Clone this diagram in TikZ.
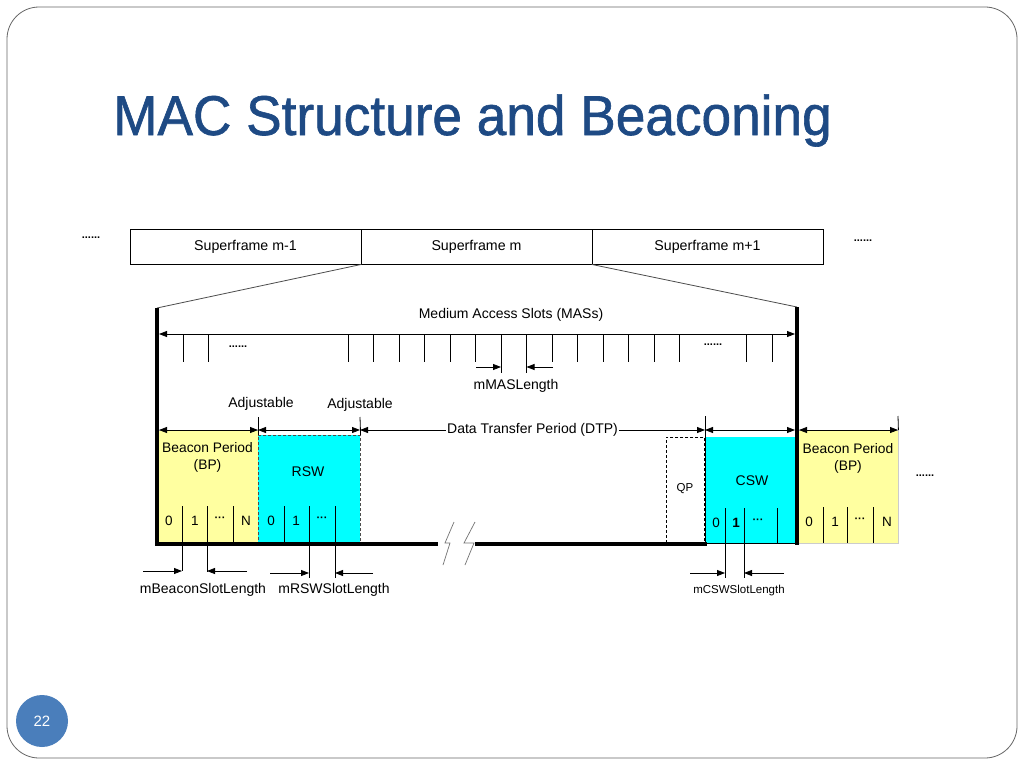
\documentclass[tikz,border=0pt]{standalone}
\usepackage{fontspec}
\setmainfont{Liberation Sans}
\newfontfamily\titlefont[FakeStretch=0.95,FakeBold=1.1]{Liberation Sans}
\usetikzlibrary{arrows.meta}
\definecolor{titleblue}{RGB}{30,74,132}
\definecolor{numblue}{RGB}{74,126,187}
\definecolor{bpyellow}{RGB}{255,255,160}
\definecolor{swcyan}{RGB}{0,255,255}
\begin{document}
\begin{tikzpicture}[x=1pt,y=-1pt,
  lbl/.style={font=\fontsize{14}{17}\selectfont, inner sep=0pt},
  digit/.style={font=\fontsize{13.5}{15}\selectfont, inner sep=0pt},
  smalllbl/.style={font=\fontsize{11.5}{13}\selectfont, inner sep=0pt},
  dotlbl/.style={font=\bfseries\fontsize{11}{12}\selectfont, inner sep=0pt},
  thinln/.style={line width=0.8pt},
  thickln/.style={line width=3.6pt},
  dimarr/.style={line width=0.8pt, {Triangle[length=8pt,width=6pt]}-{Triangle[length=8pt,width=6pt]}},
  rarr/.style={line width=0.8pt, -{Triangle[length=8pt,width=6pt]}},
  sf/.style={draw, line width=0.8pt, minimum width=231pt, minimum height=35pt, inner sep=0pt, font=\fontsize{14.2}{16}\selectfont},
  block/.style={minimum width=#1, inner sep=0pt, anchor=north west},
]
\path[use as bounding box, fill=white] (0,0) rectangle (1024,768);
% slide frame
\draw[black!60, line width=0.8pt, rounded corners=32pt] (7,7) rectangle (1017,758);
\node[circle, fill=numblue, minimum size=52pt, inner sep=0pt, text=white, font=\fontsize{15}{18}\selectfont] (pg) at (42,721) {22};
\node[anchor=base west, inner sep=0pt, text=titleblue, font=\titlefont\fontsize{56}{60}\selectfont] (title) at (113,135) {MAC Structure and Beaconing};

% superframes
\node[sf] (sf1) at (245.5,246.5) {Superframe m-1};
\node[sf] (sf2) at (476.5,246.5) {Superframe m};
\node[sf] (sf3) at (707.5,246.5) {Superframe m+1};
\node[dotlbl] (dl) at (91,238) {......};
\node[dotlbl] (dr) at (863,241) {......};

% blocks
\node[block=101pt, minimum height=114pt, fill=bpyellow, draw=black!20] (bp1) at (157,430) {};
\node[block=102pt, minimum height=109pt, fill=swcyan, draw=black!70, line width=0.6pt, densely dashed] (rsw) at (258,435) {};
\node[block=38pt, minimum height=106pt, fill=white, draw=black, line width=0.7pt, densely dashed] (qp) at (666,437) {};
\node[block=92pt, minimum height=106pt, fill=swcyan] (csw) at (705,437) {};
\draw[thinln] (csw.north west) -- (csw.south west) -- (csw.south east);
\node[block=101pt, minimum height=113pt, fill=bpyellow, draw=black!20] (bp2) at (797,430) {};

% frame of superframe m
\coordinate (Ltop) at (157,308);
\coordinate (Rtop) at (797,307);
\coordinate (Lbot) at (157,545);
\coordinate (Rbot) at (797,545);
\draw[black!70, thinln] (sf1.south east) -- (Ltop);
\draw[black!70, thinln] (sf3.south west) -- (Rtop);
\draw[thickln] (Ltop) -- (Lbot);
\draw[thickln] (Rtop) -- (Rbot);
\coordinate (B1) at (155.2,544);
\coordinate (B2) at (438,544);
\coordinate (B3) at (475,544);
\coordinate (B4) at (707,544);
\draw[thickln] (B1) -- (B2);
\draw[thickln] (B3) -- (B4);
% break marks
\draw[black!55, line width=0.7pt] (454,522) -- (445,543) -- (450,543) -- (443,565);
\draw[black!55, line width=0.7pt] (475,522) -- (464,543) -- (474,543) -- (465,565);

% MAS row
\node[lbl] (maslbl) at (511,315) {Medium Access Slots (MASs)};
\coordinate (masL) at (159,334);
\coordinate (masR) at (795,334);
\draw[dimarr] (masL) -- (masR);
\foreach \x in {183,208,348,373.5,399,424.5,450,475.5,552,577.5,603,628.5,654,679.5,746,772}
  \draw[thinln] (\x,334) -- (\x,362);
\draw[thinln] (501,334) -- (501,373);
\draw[thinln] (526.5,334) -- (526.5,373);
\node[dotlbl] (d1) at (238,347) {......};
\node[dotlbl] (d2) at (713,345) {......};
\draw[rarr] (476,367) -- (501,367);
\draw[rarr] (553,367) -- (526.5,367);
\node[lbl] (maslen) at (516,386) {mMASLength};

% Adjustable and period row
\node[lbl] (adj1) at (261,404) {Adjustable};
\node[lbl] (adj2) at (360,405) {Adjustable};
\draw[thinln] (258,417) -- (rsw.north west);
\draw[thinln] (360,417) -- (rsw.north east);
\draw[thinln] (705,416) -- (csw.north west);
\draw[thinln] (898,416) -- (bp2.north east);
\draw[dimarr] (159,430) -- (258,430);
\draw[dimarr] (258,430) -- (360,430);
\draw[dimarr] (360,430) -- node[fill=white, inner sep=1pt, font=\fontsize{14}{17}\selectfont] (dtp) {Data Transfer Period (DTP)} (705,430);
\draw[dimarr] (705,430) -- (795,430);
\draw[dimarr] (799,430) -- (898,430);

% left BP contents
\node[lbl, align=center, font=\fontsize{13.8}{17}\selectfont] (bp1t) at (207.5,457) {Beacon Period\\(BP)};
\draw[thinln] (182,506) -- (182,571);
\draw[thinln] (207,506) -- (207,572);
\draw[thinln] (233,506) -- (233,544);
\node[digit] at (169,521) {0};
\node[digit] at (195,521) {1};
\node[dotlbl] at (220,519) {···};
\node[digit] at (246,521) {N};
\draw[rarr] (143,571) -- (182,571);
\draw[rarr] (247,571) -- (207,571);
\node[lbl] (mbsl) at (203,590) {mBeaconSlotLength};

% RSW contents
\node[lbl] (rswt) at (308,472) {RSW};
\draw[thinln] (284,506) -- (284,544);
\draw[thinln] (309,506) -- (309,578);
\draw[thinln] (335,506) -- (335,578);
\node[digit] at (271,521) {0};
\node[digit] at (296,521) {1};
\node[dotlbl] at (322,519) {···};
\draw[rarr] (270,573) -- (309,573);
\draw[rarr] (373,573) -- (335,573);
\node[lbl] (mrsl) at (334,590) {mRSWSlotLength};

% QP
\node[smalllbl] (qpt) at (685,489) {QP};

% CSW contents
\node[lbl] (cswt) at (752,481) {CSW};
\draw[thinln] (725,508) -- (725,578);
\draw[thinln] (744,508) -- (744,578);
\draw[thinln] (777,508) -- (777,543);
\node[digit] at (716,523) {0};
\node[digit, font=\bfseries\fontsize{13.5}{15}\selectfont] at (736,523) {1};
\node[dotlbl] at (758,521) {···};
\draw[rarr] (690,573) -- (725,573);
\draw[rarr] (784,573) -- (744,573);
\node[smalllbl] (mcsl) at (739,591) {mCSWSlotLength};

% right BP contents
\node[lbl, align=center, font=\fontsize{13.8}{17}\selectfont] (bp2t) at (848,458) {Beacon Period\\(BP)};
\draw[thinln] (823,507) -- (823,543);
\draw[thinln] (847,507) -- (847,543);
\draw[thinln] (873,507) -- (873,543);
\node[digit] at (809,522) {0};
\node[digit] at (835,522) {1};
\node[dotlbl] at (860,520) {···};
\node[digit] at (887,522) {N};
\node[dotlbl] (d3) at (925,476) {......};
\end{tikzpicture}
\end{document}
